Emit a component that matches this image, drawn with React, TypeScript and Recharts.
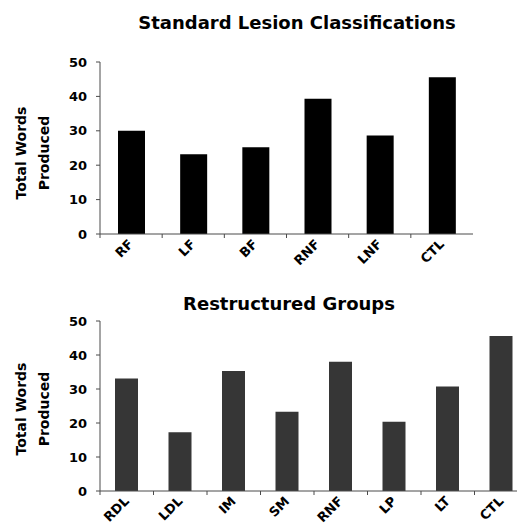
import { BarChart, Bar, XAxis, YAxis } from 'recharts'

const standardGroups = ['RF', 'LF', 'BF', 'RNF', 'LNF', 'CTL']
const standardWords = [30.0, 23.2, 25.2, 39.3, 28.6, 45.6]

const restructuredGroups = ['RDL', 'LDL', 'IM', 'SM', 'RNF', 'LP', 'LT', 'CTL']
const restructuredWords = [33.1, 17.3, 35.3, 23.3, 38.0, 20.4, 30.7, 45.6]

const yTicks = [0, 10, 20, 30, 40, 50]

const FONT = '"DejaVu Sans", Arial, sans-serif'
const AXIS = '#4a4a4a'

function makeTick(halfBand: number) {
  return function CategoryTick(props: any) {
    const { x, y, payload } = props
    return (
      <g>
        <line x1={x - halfBand} y1={y - 8} x2={x - halfBand} y2={y - 4} stroke={AXIS} />
        <text
          x={x + 3}
          y={y + 3}
          transform={`rotate(-45 ${x + 3} ${y + 3})`}
          textAnchor="end"
          fontFamily={FONT}
          fontWeight="bold"
          fontSize={13}
          fill="#000"
        >
          {payload.value}
        </text>
      </g>
    )
  }
}

interface PanelProps {
  title: string
  groups: string[]
  values: number[]
  top: number
  width: number
  height: number
  plotTop: number
  plotBottom: number
  barSize: number
  fill: string
  titleX: number
  titleY: number
  labelY: number
}

function Panel(p: PanelProps) {
  const data = p.groups.map((g, i) => ({ group: g, words: p.values[i] }))
  const plotWidth = p.width - 100
  const halfBand = plotWidth / p.groups.length / 2
  const xAxisHeight = p.height - p.plotBottom
  return (
    <div style={{ position: 'absolute', left: 0, top: p.top, width: p.width, height: p.height }}>
      <div
        style={{
          position: 'absolute',
          left: p.titleX - 200,
          width: 400,
          top: p.titleY - 11,
          textAlign: 'center',
          fontFamily: FONT,
          fontWeight: 'bold',
          fontSize: 18,
          lineHeight: '22px',
        }}
      >
        {p.title}
      </div>
      <div
        style={{
          position: 'absolute',
          left: 33 - 60,
          top: p.labelY - 23,
          width: 120,
          height: 46,
          transform: 'rotate(-90deg)',
          textAlign: 'center',
          fontFamily: FONT,
          fontWeight: 'bold',
          fontSize: 14,
          lineHeight: '23px',
        }}
      >
        Total Words
        <br />
        Produced
      </div>
      <BarChart
        width={p.width}
        height={p.height}
        data={data}
        barCategoryGap={0}
        margin={{ top: p.plotTop, right: 0, bottom: 0, left: 60 }}
      >
        <XAxis
          dataKey="group"
          interval={0}
          height={xAxisHeight}
          stroke={AXIS}
          tickLine={false}
          tick={makeTick(halfBand)}
        />
        <YAxis
          width={40}
          domain={[0, 50]}
          ticks={yTicks}
          interval={0}
          stroke={AXIS}
          tickSize={4}
          tickMargin={9}
          tick={{ fill: '#000', fontFamily: FONT, fontWeight: 'bold', fontSize: 13 }}
        />
        <Bar dataKey="words" fill={p.fill} barSize={p.barSize} isAnimationActive={false} />
      </BarChart>
    </div>
  )
}

export default function App() {
  return (
    <div
      style={{
        position: 'absolute',
        left: 0,
        top: 0,
        width: 517,
        height: 525,
        overflow: 'hidden',
        background: '#fff',
      }}
    >
      <Panel
        title="Standard Lesion Classifications"
        groups={standardGroups}
        values={standardWords}
        top={0}
        width={473}
        height={270}
        plotTop={62}
        plotBottom={234}
        barSize={27}
        fill="#000"
        titleX={297}
        titleY={23}
        labelY={153}
      />
      <Panel
        title="Restructured Groups"
        groups={restructuredGroups}
        values={restructuredWords}
        top={270}
        width={528}
        height={255}
        plotTop={51}
        plotBottom={221}
        barSize={23}
        fill="#363636"
        titleX={289}
        titleY={34}
        labelY={139}
      />
    </div>
  )
}
